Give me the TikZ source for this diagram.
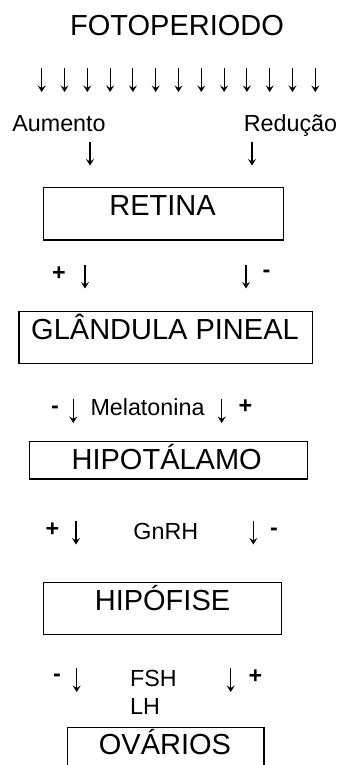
\documentclass[tikz,border=0pt]{standalone}
\usepackage{fontspec}
\setmainfont{Liberation Sans}
\usetikzlibrary{arrows.meta}
\begin{document}
\begin{tikzpicture}[x=1pt,y=-1pt,
  big/.style={font=\fontsize{29}{29}\selectfont, inner sep=0pt, anchor=base},
  small/.style={font=\fontsize{23.3}{23.3}\selectfont, inner sep=0pt, anchor=base},
  sign/.style={font=\fontsize{23.3}{23.3}\selectfont\bfseries, inner sep=0pt},
  box/.style={draw, line width=1.3pt, inner sep=0pt},
  dn/.pic={\draw[line width=1.1pt, -{Stealth[length=6.5pt, width=8pt, inset=2.5pt]}] (0,-12) -- (0,12);}]
\clip (0,0) rectangle (340,765);
\fill[white] (0,0) rectangle (340,765);
% title
\node[big] (foto) at (177,36) {FOTOPERIODO};
\foreach \i in {0,...,12} {
  \pic (r\i) at ({41.7+22.8*\i},80) {dn};
}
\node[small] (aum) at (59,131.7) {Aumento};
\node[small] (red) at (290.5,131.7) {Redução};
\pic (a1) at (90,153.5) {dn};
\pic (a2) at (252,153.5) {dn};
% retina
\node[box, anchor=north west, minimum width=240pt, minimum height=52.6pt] (retbox) at (42.7,186.7) {};
\node[big] (ret) at (162.5,215) {RETINA};
\node[sign] (p1) at (59,274) {+};
\pic (b1) at (85,276.5) {dn};
\pic (b2) at (246,276.5) {dn};
\node[sign] (m1) at (266.5,274) {-};
% pineal
\node[box, anchor=north west, minimum width=293.4pt, minimum height=52pt] (pinbox) at (18.3,310.7) {};
\node[big] (pin) at (165,339.3) {GLÂNDULA PINEAL};
\node[sign] (m2) at (55,410) {-};
\pic (c1) at (73.3,411) {dn};
\node[small] (mel) at (147.5,415.7) {Melatonina};
\pic (c2) at (221.7,411) {dn};
\node[sign] (p2) at (245.5,406.7) {+};
% hipotalamo
\node[box, anchor=north west, minimum width=277.7pt, minimum height=37.6pt] (hipbox) at (29,440.7) {};
\node[big] (hip) at (166.7,469) {HIPOTÁLAMO};
\node[sign] (p3) at (52.5,530) {+};
\pic (d1) at (76,532.5) {dn};
\node[small] (gnrh) at (165.8,539.3) {GnRH};
\pic (d2) at (253.3,532.5) {dn};
\node[sign] (m3) at (274,532) {-};
% hipofise
\node[box, anchor=north west, minimum width=238.3pt, minimum height=52.3pt] (hfbox) at (42.7,581.7) {};
\node[big] (hf) at (162.5,610) {HIPÓFISE};
\node[sign] (m4) at (57,678) {-};
\pic (e1) at (76.7,680) {dn};
\node[small, anchor=base west] (fsh) at (130,686.7) {FSH};
\node[small, anchor=base west] (lh) at (130,714) {LH};
\pic (e2) at (230.7,680) {dn};
\node[sign] (p4) at (255.5,676.7) {+};
% ovarios
\node[box, anchor=north west, minimum width=196.6pt, minimum height=60pt] (ovbox) at (66.7,726.7) {};
\node[big] (ov) at (165,754) {OVÁRIOS};
\end{tikzpicture}
\end{document}
